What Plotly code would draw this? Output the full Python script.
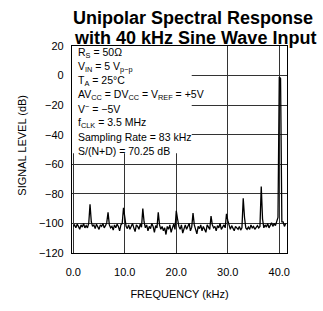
import numpy as np
import plotly.graph_objects as go

# Frequency bins (kHz), 0.25 kHz spacing
freq_step = 0.25
level_db = [
    -102, -101, -103, -100.5, -102, -104, -101, -102.5, -100, -103,
    -101.5, -103, -100, -87, -99, -102, -101, -103.5, -100.5, -102,
    -104, -101, -102, -100, -103, -101.5, -99.5, -92.5, -101, -103,
    -102, -104.5, -101, -103, -100.5, -102, -105, -101, -100, -89.5,
    -96, -102, -103.5, -101, -104, -102, -100, -103, -105.5, -101,
    -102, -104, -100.5, -102.5, -90, -99, -103, -101, -105, -102,
    -103.5, -100, -102, -106, -101.5, -103, -92.5, -101, -104, -102,
    -105, -103, -107.5, -102, -104, -101, -106, -103, -100.5, -104,
    -91.5, -97, -102, -104, -101, -106.5, -103, -101, -104, -102,
    -100, -105, -102.5, -93, -101, -104, -107, -102, -103.5, -101,
    -105, -102, -103.5, -106, -101, -102.5, -104, -95, -101, -103,
    -102, -105, -101.5, -103, -100, -104, -102.5, -101, -103, -93.5,
    -98, -102, -104, -101.5, -103, -105, -102, -103.5, -104, -102,
    -104.5, -103, -83, -96, -103, -104, -102.5, -104, -101, -103,
    -102, -104, -103, -101.5, -103, -102, -75, -97, -103, -101,
    -102.5, -100, -103, -101, -99.5, -102, -100, -101.5, -98, -96,
    -1, -2, -99, -99, -102, -100,
]
freq_khz = [i * freq_step for i in range(len(level_db))]

x_ticks = [0, 10, 20, 30, 40]
y_ticks = [20, 0, -20, -40, -60, -80, -100, -120]

title_lines = ["Unipolar Spectral Response", "with 40 kHz Sine Wave Input"]
cond_lines = [
    "R<sub>S</sub> = 50Ω",
    "V<sub>IN</sub> = 5 V<sub>p−p</sub>",
    "T<sub>A</sub> = 25°C",
    "AV<sub>CC</sub> = DV<sub>CC</sub> = V<sub>REF</sub> = +5V",
    "V<sup>−</sup> = −5V",
    "f<sub>CLK</sub> = 3.5 MHz",
    "Sampling Rate = 83 kHz",
    "S/(N+D) = 70.25 dB",
]

W, H = 323, 311
L, R, T, B = 72, 36, 46, 49
pw, ph = W - L - R, H - T - B

def px_x(p):
    return (p - L) / pw

def px_y(p):
    return (H - B - p) / ph

fig = go.Figure()
fig.add_trace(go.Scatter(x=freq_khz, y=level_db, mode="lines",
                         line=dict(color="black", width=1.3), hoverinfo="skip"))

# white box behind conditions text
fig.add_shape(type="rect", xref="x", yref="y", x0=-0.25, x1=23.0, y0=-52.5, y1=20,
              fillcolor="white", line=dict(width=0), layer="between")

annotations = []
annotations.append(dict(text="<b>" + title_lines[0] + "</b>", x=px_x(193), y=px_y(16.5),
                        xref="paper", yref="paper", showarrow=False, xanchor="center",
                        yanchor="middle", font=dict(family="Liberation Sans, Arial", size=18, color="black")))
annotations.append(dict(text="<b>" + title_lines[1] + "</b>", x=px_x(195), y=px_y(38),
                        xref="paper", yref="paper", showarrow=False, xanchor="center",
                        yanchor="middle", font=dict(family="Liberation Sans, Arial", size=18, color="black")))
for k, t in enumerate(cond_lines):
    annotations.append(dict(text=t, x=px_x(76), y=px_y(53 + k * 14.6), xref="paper", yref="paper",
                            showarrow=False, xanchor="left", yanchor="middle",
                            font=dict(family="Liberation Sans, Arial", size=10.5, color="black")))
annotations.append(dict(text="SIGNAL LEVEL (dB)", x=px_x(22), y=px_y(150), xref="paper", yref="paper",
                        showarrow=False, textangle=-90, xanchor="center", yanchor="middle",
                        font=dict(family="Liberation Sans, Arial", size=11, color="black")))

fig.update_layout(
    width=W, height=H, margin=dict(l=L, r=R, t=T, b=B, pad=0),
    paper_bgcolor="white", plot_bgcolor="white", showlegend=False,
    annotations=annotations,
    font=dict(family="Liberation Sans, Arial", size=11, color="black"),
)
fig.update_xaxes(range=[-0.25, 41.5], tickvals=x_ticks, tickformat=".1f",
                 showgrid=True, gridcolor="#333", gridwidth=1, zeroline=False,
                 showline=True, linecolor="black", linewidth=1.2, mirror=True,
                 ticks="", ticklabelstandoff=9,
                 title=dict(text="FREQUENCY (kHz)", standoff=13, font=dict(size=11)))
fig.update_yaxes(range=[-120, 20], tickvals=y_ticks,
                 showgrid=True, gridcolor="#333", gridwidth=1, zeroline=False,
                 showline=True, linecolor="black", linewidth=1.2, mirror=True,
                 ticks="", ticklabelstandoff=5)

fig.write_html("out.html", config={"displayModeBar": False},
               post_script="document.body.style.margin='0';document.body.style.padding='0';")
